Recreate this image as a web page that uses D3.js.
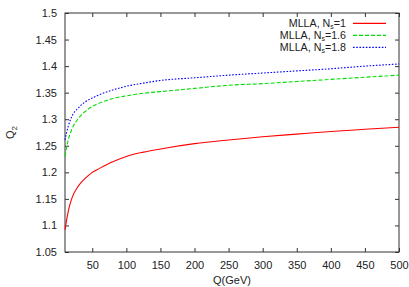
<!DOCTYPE html>
<html>
<head>
  <meta charset="utf-8" />
  <script src="https://d3js.org/d3.v7.min.js"></script>
  <style>
    body { margin: 0; background: #fff; }
    text { font-family: "Liberation Sans", Arial, sans-serif; font-size: 11px; fill: #222; }
    .frame { fill: none; stroke: #333; stroke-width: 1; }
    .tick line { stroke: #333; }
    .curve { fill: none; stroke-width: 1.1; }
  </style>
</head>
<body>
  <script>
    // - - - - - DATA - - - - - //
    var qValues = [10, 15, 20, 30, 40, 50, 60, 80, 100, 125, 150, 200, 250, 300, 350, 400, 450, 500];
    var ns1  = [1.092, 1.128, 1.151, 1.175, 1.189, 1.200, 1.207, 1.220, 1.230, 1.238, 1.244, 1.254, 1.261, 1.267, 1.272, 1.277, 1.281, 1.285];
    var ns16 = [1.230, 1.262, 1.281, 1.302, 1.315, 1.324, 1.330, 1.339, 1.344, 1.349, 1.352, 1.358, 1.364, 1.367, 1.371, 1.375, 1.379, 1.383];
    var ns18 = [1.261, 1.288, 1.305, 1.322, 1.333, 1.340, 1.346, 1.355, 1.362, 1.368, 1.373, 1.378, 1.383, 1.387, 1.391, 1.395, 1.400, 1.404];
    var xTicks = [50, 100, 150, 200, 250, 300, 350, 400, 450, 500];
    var yTicks = [1.05, 1.1, 1.15, 1.2, 1.25, 1.3, 1.35, 1.4, 1.45, 1.5];
    var seriesNames = ["1", "1.6", "1.8"];

    var series = [
      {ns: seriesNames[0], values: ns1,  color: "#ff0000", dash: null},
      {ns: seriesNames[1], values: ns16, color: "#00e000", dash: "4,2"},
      {ns: seriesNames[2], values: ns18, color: "#0000ff", dash: "1.6,1.6"}
    ];

    // - - - - - LAYOUT - - - - - //
    var margin = {top: 13, right: 10, bottom: 35, left: 65},
        width = 409 - margin.left - margin.right,
        height = 287 - margin.top - margin.bottom;

    var x = d3.scaleLinear().domain([10, 500]).range([0, width]);
    var y = d3.scaleLinear().domain([1.05, 1.5]).range([height, 0]);

    var svg = d3.select("body").append("svg")
        .attr("width", 409)
        .attr("height", 287)
      .append("g")
        .attr("transform", "translate(" + margin.left + "," + margin.top + ")");

    var fmtY = function(d) { return d3.format("")(+d.toFixed(2)); };

    // axes with inward ticks, mirrored on top/right
    svg.append("g").attr("transform", "translate(0," + height + ")")
        .call(d3.axisBottom(x).tickValues(xTicks).tickSizeInner(-4).tickSizeOuter(0).tickPadding(9));
    svg.append("g")
        .call(d3.axisTop(x).tickValues(xTicks).tickSizeInner(-4).tickSizeOuter(0).tickFormat(""));
    svg.append("g")
        .call(d3.axisLeft(y).tickValues(yTicks).tickSizeInner(-4).tickSizeOuter(0).tickPadding(8).tickFormat(fmtY));
    svg.append("g").attr("transform", "translate(" + width + ",0)")
        .call(d3.axisRight(y).tickValues(yTicks).tickSizeInner(-4).tickSizeOuter(0).tickFormat(""));
    svg.selectAll(".domain").remove();
    svg.selectAll(".tick text").style("font-family", "Liberation Sans, Arial, sans-serif").style("font-size", "11px").attr("fill", "#222");

    svg.append("rect").attr("class", "frame")
        .attr("width", width).attr("height", height);

    // curves
    var line = d3.line()
        .x(function(d, i) { return x(qValues[i]); })
        .y(function(d) { return y(d); })
        .curve(d3.curveMonotoneX);

    svg.selectAll(".curve")
        .data(series)
      .enter().append("path")
        .attr("class", "curve")
        .attr("d", function(d) { return line(d.values); })
        .style("stroke", function(d) { return d.color; })
        .style("stroke-dasharray", function(d) { return d.dash; });

    // legend
    var legend = svg.selectAll(".legend")
        .data(series)
      .enter().append("g")
        .attr("class", "legend")
        .attr("transform", function(d, i) { return "translate(0," + (10.3 + i * 12) + ")"; });

    legend.append("line")
        .attr("x1", 288).attr("x2", 321)
        .style("stroke", function(d) { return d.color; })
        .style("stroke-width", 1.3)
        .style("stroke-dasharray", function(d) { return d.dash; });

    var lt = legend.append("text")
        .attr("x", 281)
        .attr("dy", "0.35em")
        .attr("text-anchor", "end")
        .style("font-size", "10.7px");
    lt.append("tspan").text("MLLA, N");
    lt.append("tspan").attr("dy", "1.5").style("font-size", "7px").text("s");
    lt.append("tspan").attr("dy", "-1.5").text(function(d) { return "=" + d.ns; });

    // axis labels
    svg.append("text")
        .attr("x", width / 2)
        .attr("y", height + 32)
        .attr("text-anchor", "middle")
        .text("Q(GeV)");

    var yl = svg.append("text")
        .attr("transform", "translate(" + (-51) + "," + (height / 2) + ") rotate(-90)")
        .attr("text-anchor", "middle");
    yl.append("tspan").text("Q");
    yl.append("tspan").attr("dy", "3").style("font-size", "8px").text("2");
  </script>
</body>
</html>
